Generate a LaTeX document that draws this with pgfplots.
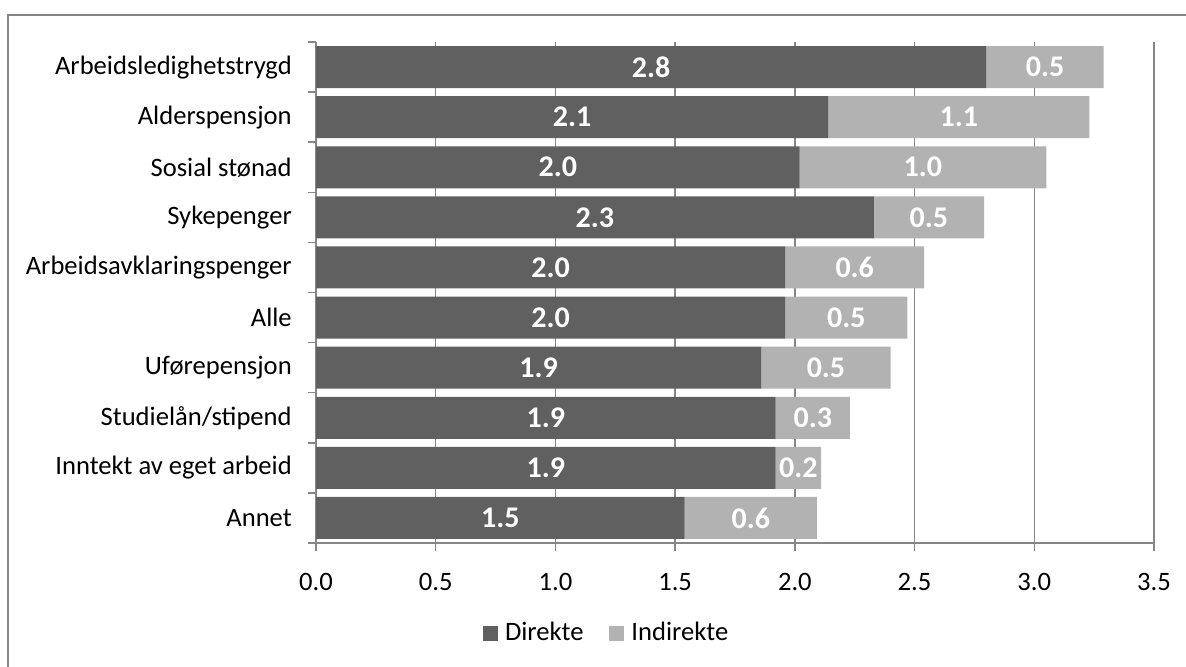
\documentclass[border=0pt]{standalone}
\usepackage{pgfplots}
\pgfplotsset{compat=1.18}
\usepackage{fontspec}
\setmainfont{Carlito}
\definecolor{dark}{HTML}{606060}
\definecolor{light}{HTML}{B2B2B2}
\definecolor{gridc}{HTML}{868686}
\begin{document}
\fontsize{13.3}{16}\selectfont
\begin{tikzpicture}
\useasboundingbox (0,0) rectangle (593pt,333pt);
\draw[gridc, line width=1pt] (3.75pt,-1pt) -- (3.75pt,325.5pt) -- (594pt,325.5pt);
\begin{axis}[
  at={(158pt,61.5pt)}, anchor=south west,
  scale only axis, width=419pt, height=250.5pt,
  xbar stacked, bar width=21pt,
  xmin=0, xmax=3.5, ymin=0.5, ymax=10.5, y dir=reverse,
  xtick={0,0.5,1,1.5,2,2.5,3,3.5},
  xticklabel style={yshift=-6.5pt, /pgf/number format/.cd, fixed, fixed zerofill, precision=1},
  yticklabel style={xshift=-3.5pt},
  /pgf/number format/assume math mode=true,
  ytick={1,2,3,4,5,6,7,8,9,10},
  yticklabels={Arbeidsledighetstrygd, Alderspensjon, Sosial stønad, Sykepenger, Arbeidsavklaringspenger, Alle, Uførepensjon, Studielån/stipend, Inntekt av eget arbeid, Annet},
  minor ytick={0.5,1.5,2.5,3.5,4.5,5.5,6.5,7.5,8.5,9.5,10.5},
  major y tick style={draw=none},
  minor y tick style={draw=gridc, line width=0.75pt},
  major x tick style={draw=gridc, line width=0.75pt},
  tick align=outside, major tick length=4pt, minor tick length=4pt,
  axis x line*=bottom, axis y line*=left,
  axis line style={gridc, line width=0.75pt, -},
  xmajorgrids, grid style={gridc, line width=0.75pt},
  legend style={at={(0.348,-0.18)}, anchor=center, draw=none, legend columns=2,
    /tikz/every even column/.append style={column sep=11pt},
    /tikz/every odd column/.append style={column sep=1.5pt}, inner sep=0pt},
  legend cell align=left,
  nodes near coords={\pgfmathprintnumber[fixed,fixed zerofill,precision=1]{\pgfplotspointmeta}},
  point meta=rawx,
  every node near coord/.append style={anchor=center, font=\fontsize{15}{18}\selectfont\bfseries, text=white},
]
\addplot[fill=dark, draw=none,
  legend image code/.code={\fill[dark] (0pt,-3.75pt) rectangle (7.5pt,3.75pt);}]
  coordinates {(2.80,1) (2.14,2) (2.02,3) (2.33,4) (1.96,5) (1.96,6) (1.86,7) (1.92,8) (1.92,9) (1.54,10)};
\addplot[fill=light, draw=none,
  legend image code/.code={\fill[light] (0pt,-3.75pt) rectangle (7.5pt,3.75pt);}]
  coordinates {(0.49,1) (1.09,2) (1.03,3) (0.46,4) (0.58,5) (0.51,6) (0.54,7) (0.31,8) (0.19,9) (0.552,10)};
\legend{Direkte, Indirekte}
\end{axis}
\end{tikzpicture}
\end{document}
